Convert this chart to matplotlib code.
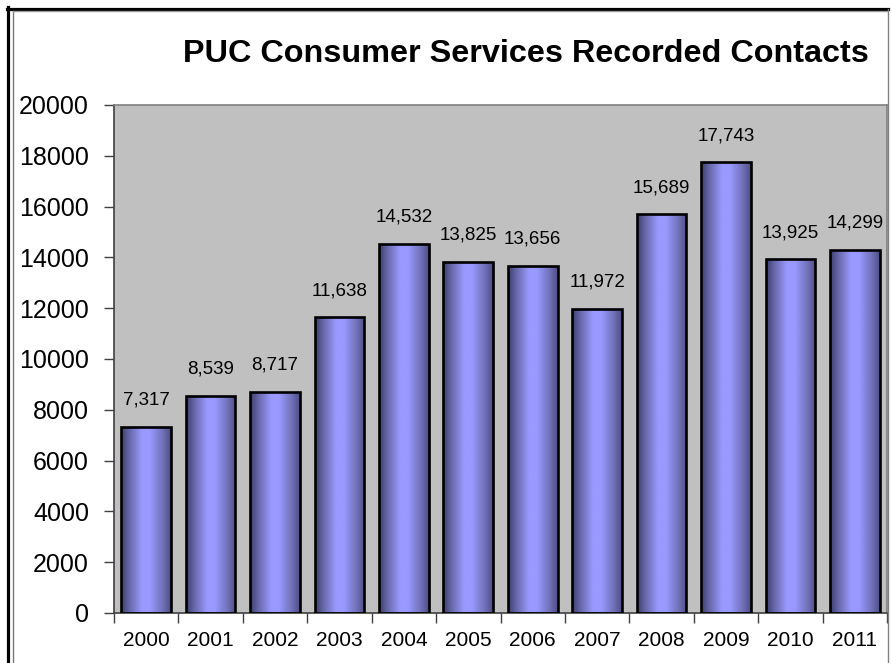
import matplotlib
matplotlib.use("Agg")
import matplotlib.pyplot as plt
import numpy as np
from matplotlib.colors import LinearSegmentedColormap
from matplotlib.lines import Line2D

plt.rcParams['font.family'] = ['Liberation Sans', 'DejaVu Sans']

years = ['2000', '2001', '2002', '2003', '2004', '2005',
         '2006', '2007', '2008', '2009', '2010', '2011']
contacts = [7317, 8539, 8717, 11638, 14532, 13825,
            13656, 11972, 15689, 17743, 13925, 14299]
y_ticks = [0, 2000, 4000, 6000, 8000, 10000, 12000,
           14000, 16000, 18000, 20000]
title = 'PUC Consumer Services Recorded Contacts'

W, H = 892, 663
fig = plt.figure(figsize=(W / 100, H / 100), dpi=100)
fig.patch.set_facecolor('white')

ax = fig.add_axes([114 / W, 1 - 613 / H, (887 - 114) / W, (613 - 105) / H])
ax.set_facecolor('#C0C0C0')

x = np.arange(len(years))
bars = ax.bar(x, contacts, width=0.77, facecolor='none',
              edgecolor='black', linewidth=1.9, zorder=3)

# horizontal shading across each bar (dark edges, light centre)
shade = LinearSegmentedColormap.from_list(
    'shade', [(0.0, '#3E3E6C'), (0.18, '#6A6AAE'), (0.42, '#9999FF'),
              (0.58, '#9999FF'), (0.82, '#7474BE'), (1.0, '#4E4E86')])
grad = np.linspace(0, 1, 256).reshape(1, -1)
for b in bars:
    x0, y0 = b.get_x(), b.get_y()
    im = ax.imshow(grad, cmap=shade, aspect='auto', interpolation='bilinear',
                   extent=(x0, x0 + b.get_width(), y0, y0 + b.get_height()),
                   zorder=2)
    im.set_clip_path(b)

for xi, v in zip(x, contacts):
    ax.annotate(f'{v:,}', (xi, v), xytext=(0, 16), textcoords='offset points',
                ha='center', va='baseline', fontsize=13.5, color='black')

ax.set_xlim(-0.5, len(years) - 0.5)
ax.set_ylim(0, 20000)
ax.set_yticks(y_ticks)
ax.set_yticklabels([str(t) for t in y_ticks], fontsize=18)
ax.tick_params(axis='y', direction='out', length=7, width=1, pad=11,
               color='#404040')

ax.set_xticks(x)
ax.set_xticklabels(years, fontsize=15)
ax.tick_params(axis='x', which='major', length=0, pad=13)
ax.set_xticks(np.arange(len(years) + 1) - 0.5, minor=True)
ax.tick_params(axis='x', which='minor', direction='out', length=7, width=1,
               color='#404040')

for side in ['top', 'right']:
    ax.spines[side].set_color('#808080')
    ax.spines[side].set_linewidth(1.2)
ax.spines['left'].set_color('#404040')
ax.spines['bottom'].set_color('#404040')
ax.spines['left'].set_linewidth(1.2)
ax.spines['bottom'].set_linewidth(1.2)

fig.text(526 / W, 1 - 62 / H, title, ha='center', va='baseline',
         fontsize=23.3, fontweight='bold', color='black')

# chart frame
fig.add_artist(Line2D([8 / W, 8 / W], [0, 1 - 7 / H], color='black',
                      linewidth=2.3, transform=fig.transFigure))
fig.add_artist(Line2D([7 / W, 888 / W], [1 - 8.5 / H, 1 - 8.5 / H],
                      color='black', linewidth=2.3, transform=fig.transFigure))
fig.add_artist(Line2D([12.5 / W, 12.5 / W], [0, 1 - 10.5 / H], color='#777777',
                      linewidth=1.0, transform=fig.transFigure))
fig.add_artist(Line2D([12.5 / W, 887 / W], [1 - 10.5 / H, 1 - 10.5 / H],
                      color='#999999', linewidth=1.0, transform=fig.transFigure))
fig.add_artist(Line2D([887.5 / W, 887.5 / W], [0, 1 - 9 / H], color='#808080',
                      linewidth=1.0, transform=fig.transFigure))

fig.savefig('out.png', dpi=100)
